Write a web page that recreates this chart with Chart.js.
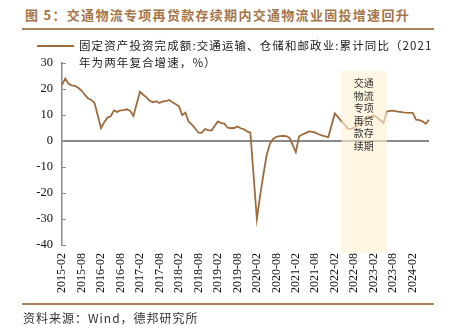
<!DOCTYPE html>
<html>
<head>
<meta charset="utf-8">
<script src="https://cdn.jsdelivr.net/npm/chart.js@4.4.1/dist/chart.umd.min.js"></script>
<style>
  body { margin: 0; background: #fff; }
  #page { position: relative; width: 456px; height: 329px; overflow: hidden; background: #fff; }
  #title { position: absolute; left: 25px; top: 5px; font: bold 13px "Noto Sans CJK SC", sans-serif; color: #a5764a; letter-spacing: 1.3px; line-height: 20px; white-space: nowrap; }
  .rule { position: absolute; left: 22px; width: 412px; height: 2px; background: #a8825c; }
  #legend { position: absolute; left: 79px; top: 37px; font: 11.5px "Noto Sans CJK SC", sans-serif; color: #222; letter-spacing: 1.1px; line-height: 17px; white-space: nowrap; z-index: 2; }
  #legendLine { position: absolute; left: 37px; top: 45px; width: 37px; height: 2px; background: #9e6b3d; z-index: 2; }
  #source { position: absolute; left: 23px; top: 310px; font: 12px "Noto Sans CJK SC", sans-serif; color: #333; letter-spacing: 1px; line-height: 16px; white-space: nowrap; }
  canvas { position: absolute; left: 0; top: 0; }
</style>
</head>
<body>
<div id="page">
  <div id="title">图 5：交通物流专项再贷款存续期内交通物流业固投增速回升</div>
  <div class="rule" style="top:28px"></div>
  <div id="legendLine"></div>
  <div id="legend">固定资产投资完成额:交通运输、仓储和邮政业:累计同比（2021<br>年为两年复合增速，%）</div>
  <canvas id="chart" width="456" height="329"></canvas>
  <div class="rule" style="top:303px;height:1.5px"></div>
  <div id="source">资料来源：Wind，德邦研究所</div>
</div>
<script>
// --- data: cumulative YoY (%), one entry per month, null where no January release ---
const y2015 = [21.6, 24.0, 22.0, 21.4, 21.2, 20.5, 19.4, 17.8, 16.4, 15.8, 14.7];        // Feb-Dec
const y2016 = [null, 5.0, 7.2, 9.0, 9.5, 11.8, 11.2, 11.8, 11.9, 12.2, 11.6, 9.6];
const y2017 = [null, 19.0, 17.8, 16.8, 15.5, 14.9, 15.3, 14.6, 15.2, 15.3, 15.8, 14.9];
const y2018 = [null, 13.4, 10.0, 10.9, 7.4, 6.3, 4.8, 3.2, 3.1, 4.6, 4.2, 4.0];
const y2019 = [null, 7.5, 6.9, 6.7, 5.1, 4.9, 5.0, 5.6, 4.9, 4.5, 3.7, 3.2];
const y2020 = [null, -30.0, -21.0, -13.0, -5.5, -1.2, 0.8, 1.6, 1.9, 2.0, 1.9, 1.3];
const y2021 = [null, -4.3, 1.8, 2.5, 3.0, 3.7, 3.5, 3.2, 2.6, 2.2, 1.8, 1.5];
const y2022 = [null, 10.6, 9.2, 7.6, 6.3, 4.8, 4.6, 5.2, 6.0, 6.7, 7.8, 8.6];
const y2023 = [null, 9.8, 9.0, 8.0, 7.0, 11.3, 11.6, 11.7, 11.4, 11.2, 11.0, 10.9];
const y2024 = [null, 10.8, 8.2, 8.0, 7.6, 6.6, 8.2];                                   // Jan-Jul

const values = [].concat(y2015, y2016, y2017, y2018, y2019, y2020, y2021, y2022, y2023, y2024);

// month categories 2015-02 ... 2024-07
const months = [];
for (let y = 2015; y <= 2024; y++) {
  for (let m = 1; m <= 12; m++) {
    if (y === 2015 && m < 2) continue;
    if (y === 2024 && m > 7) break;
    months.push(y + '-' + String(m).padStart(2, '0'));
  }
}

const yTicks = [30, 20, 10, 0, -10, -20, -30, -40];
const shadeFrom = '2022-05';
const shadeTo = '2023-06';
const shadeText = ['交通', '物流', '专项', '再贷', '款存', '续期'];

const LINE = '#9e6b3d';
const AXIS = '#8a8a8a';

// inner tick marks on the y axis + shaded period drawn over the line
const overlay = {
  id: 'overlay',
  afterDatasetsDraw(chart) {
    const { ctx, chartArea, scales: { x, y } } = chart;
    ctx.save();
    ctx.strokeStyle = AXIS;
    ctx.lineWidth = 1;
    yTicks.forEach(v => {
      const py = Math.round(y.getPixelForValue(v)) + 0.5;
      ctx.beginPath();
      ctx.moveTo(chartArea.left, py);
      ctx.lineTo(chartArea.left + 4, py);
      ctx.stroke();
    });

    const x0 = x.getPixelForValue(months.indexOf(shadeFrom)) - 3;
    const x1 = x.getPixelForValue(months.indexOf(shadeTo));
    const top = y.getPixelForValue(27);
    const bottom = chartArea.bottom + 8;
    ctx.fillStyle = 'rgba(255, 240, 212, 0.62)';
    ctx.fillRect(x0, top, x1 - x0, bottom - top);

    ctx.fillStyle = '#333';
    ctx.font = '10px "Noto Sans CJK SC", sans-serif';
    ctx.textAlign = 'center';
    ctx.textBaseline = 'middle';
    const cx = (x0 + x1) / 2 - 0.5;
    shadeText.forEach((t, i) => {
      const ty = top + 12.5 + i * 12.5;
      ctx.fillText(t[0], cx - 5, ty);
      ctx.fillText(t[1], cx + 5, ty);
    });
    ctx.restore();
  }
};

new Chart(document.getElementById('chart'), {
  type: 'line',
  data: {
    labels: months,
    datasets: [{
      data: values,
      borderColor: LINE,
      borderWidth: 1.8,
      pointRadius: 0,
      tension: 0,
      spanGaps: true,
      fill: false
    }]
  },
  options: {
    responsive: false,
    animation: false,
    devicePixelRatio: 1,
    layout: { padding: { left: 0, right: 27, top: 63, bottom: 0 } },
    plugins: { legend: { display: false }, tooltip: { enabled: false } },
    scales: {
      x: {
        type: 'category',
        offset: false,
        grid: { display: false, drawTicks: false },
        border: { display: false },
        afterFit(scale) { scale.height = 84; },
        ticks: {
          autoSkip: false,
          maxRotation: 90,
          minRotation: 90,
          padding: 8,
          color: '#111',
          font: { family: '"Liberation Serif", serif', size: 12 },
          callback(val, i) { return i % 6 === 0 ? months[i] : ''; }
        }
      },
      y: {
        min: -40,
        max: 30,
        afterFit(scale) { scale.width = 62; },
        border: { display: true, color: AXIS, width: 1.5 },
        grid: {
          drawTicks: false,
          color: c => (c.tick && c.tick.value === 0 ? AXIS : 'rgba(0,0,0,0)'),
          lineWidth: c => (c.tick && c.tick.value === 0 ? 2 : 1)
        },
        ticks: {
          stepSize: 10,
          padding: 9,
          color: '#111',
          font: { family: '"Liberation Serif", serif', size: 12.5 }
        }
      }
    }
  },
  plugins: [overlay]
});
</script>
</body>
</html>
